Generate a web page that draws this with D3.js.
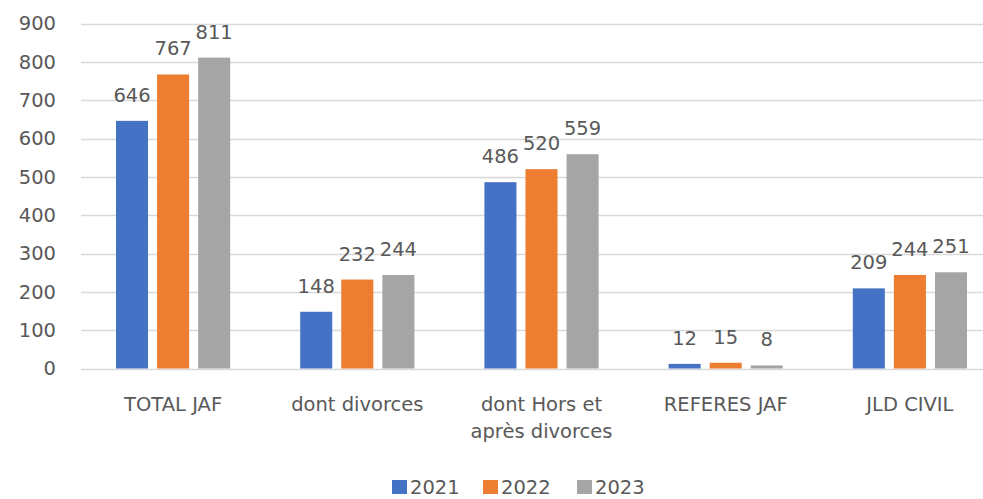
<!DOCTYPE html>
<html>
<head>
<meta charset="utf-8">
<script src="https://cdn.jsdelivr.net/npm/d3@7"></script>
<style>
  body { margin: 0; background: #fff; }
  text { font-family: "DejaVu Sans", sans-serif; fill: #595959; }
</style>
</head>
<body>
<svg id="chart" width="983" height="499"></svg>
<script>
const categories = ["TOTAL JAF", "dont divorces", "dont Hors et|après divorces", "REFERES JAF", "JLD CIVIL"];
const years = ["2021", "2022", "2023"];
const values2021 = [646, 148, 486, 12, 209];
const values2022 = [767, 232, 520, 15, 244];
const values2023 = [811, 244, 559, 8, 251];
const yTicks = [0, 100, 200, 300, 400, 500, 600, 700, 800, 900];
const colors = ["#4472C4", "#ED7D31", "#A5A5A5"];

const series = [values2021, values2022, values2023];

const svg = d3.select("#chart");
const fontSize = 19.5;

const y = d3.scaleLinear().domain([0, 900]).range([368.5, 23.5]);
const x0 = d3.scaleBand().domain(categories).range([81, 1002])
  .paddingInner(0.38).paddingOuter(0.19);
const x1 = d3.scaleBand().domain(years).range([0, x0.bandwidth()])
  .paddingInner(0.22);
const color = d3.scaleOrdinal().domain(years).range(colors);

// gridlines
svg.append("g")
  .selectAll("line")
  .data(yTicks)
  .join("line")
  .attr("x1", 81)
  .attr("x2", 983)
  .attr("y1", d => Math.round(y(d)) + 0.5)
  .attr("y2", d => Math.round(y(d)) + 0.5)
  .attr("stroke", "#d9d9d9")
  .attr("stroke-width", 1.3);

// y axis labels
const yAxis = d3.axisLeft(y).tickValues(yTicks).tickSize(0).tickPadding(0);
const yg = svg.append("g").attr("transform", "translate(56,0)").call(yAxis);
yg.select(".domain").remove();
yg.selectAll("text")
  .style("font-size", fontSize + "px")
  .style("font-family", "DejaVu Sans, sans-serif")
  .attr("fill", "#595959");

// bars
const groups = svg.append("g")
  .selectAll("g")
  .data(categories)
  .join("g")
  .attr("transform", d => `translate(${x0(d)},0)`);

groups.selectAll("rect")
  .data((d, i) => years.map((yr, j) => ({ year: yr, value: series[j][i] })))
  .join("rect")
  .attr("x", d => x1(d.year))
  .attr("y", d => y(d.value))
  .attr("width", x1.bandwidth())
  .attr("height", d => y(0) - y(d.value))
  .attr("fill", d => color(d.year));

groups.selectAll("text.val")
  .data((d, i) => years.map((yr, j) => ({ year: yr, value: series[j][i] })))
  .join("text")
  .attr("class", "val")
  .attr("x", d => x1(d.year) + x1.bandwidth() / 2)
  .attr("y", d => y(d.value) - 19)
  .attr("text-anchor", "middle")
  .style("font-size", fontSize + "px")
  .text(d => d.value);

// category labels
svg.append("g")
  .selectAll("text")
  .data(categories)
  .join("text")
  .attr("x", d => x0(d) + x0.bandwidth() / 2)
  .attr("y", 411)
  .attr("text-anchor", "middle")
  .style("font-size", fontSize + "px")
  .each(function (d) {
    const lines = d.split("|");
    lines.forEach((l, k) => {
      d3.select(this).append("tspan")
        .attr("x", x0(d) + x0.bandwidth() / 2)
        .attr("dy", k === 0 ? 0 : 27)
        .text(l);
    });
  });

// legend
const legendX = [392, 483, 577];
const legend = svg.append("g");
years.forEach((yr, i) => {
  legend.append("rect")
    .attr("x", legendX[i])
    .attr("y", 480)
    .attr("width", 15)
    .attr("height", 14)
    .attr("fill", color(yr));
  legend.append("text")
    .attr("x", legendX[i] + 18)
    .attr("y", 494)
    .style("font-size", fontSize + "px")
    .text(yr);
});
</script>
</body>
</html>
